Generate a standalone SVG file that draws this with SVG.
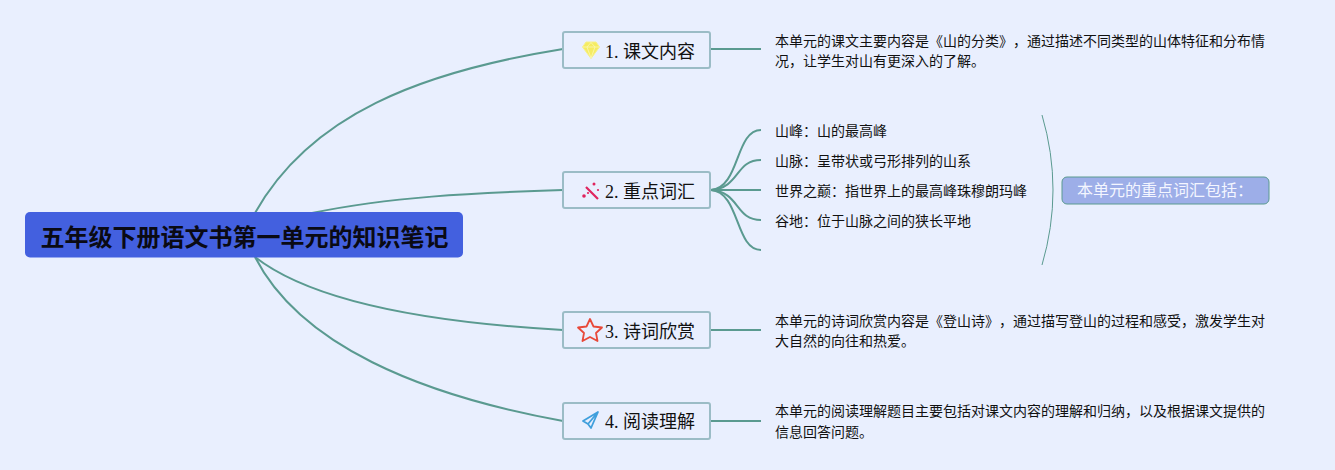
<svg xmlns="http://www.w3.org/2000/svg" width="1335" height="470" viewBox="0 0 1335 470">
<style>
text{text-spacing-trim:space-all}
.c{fill:none;stroke:#5a9a90;stroke-width:2}
.b{fill:#e9effe;stroke:#9bbcc6;stroke-width:2}
.t{font-family:"Liberation Serif","Noto Sans CJK SC",serif;font-size:18px;fill:#111}
.s{font-family:"Liberation Serif","Noto Sans CJK SC",serif;font-size:14px;fill:#111}
</style>
<rect width="1335" height="470" fill="#e9effe"/>
<g id="connectors">
<path class="c" d="M255 213C310 115 420 72 563 49"/>
<path class="c" d="M312 213C390 197 470 193 563 190"/>
<path class="c" d="M255 257C310 300 420 322 563 330"/>
<path class="c" d="M255 257C300 345 420 395 563 421"/>
<path class="c" d="M711 49H761"/>
<path class="c" d="M711 190C740 188 735 130 761 130"/>
<path class="c" d="M711 190C740 188 735 160 761 160"/>
<path class="c" d="M711 190H761"/>
<path class="c" d="M711 190C740 192 735 220 761 220"/>
<path class="c" d="M711 190C740 192 735 250 761 250"/>
<path class="c" d="M711 330H761"/>
<path class="c" d="M711 421H761"/>
<path d="M1042 115Q1064 190 1042 265" fill="none" stroke="#5a9a90" stroke-width="1"/>
</g>
<g id="root">
<rect x="25" y="212" width="438" height="45.500" rx="5" fill="#4360df"/>
<text x="244.500" y="246" text-anchor="middle" font-family="'Noto Sans CJK SC',sans-serif" font-size="24" font-weight="700" fill="#0a0a14">五年级下册语文书第一单元的知识笔记</text>
</g>
<g id="n1">
<rect class="b" x="563" y="32" width="147" height="36" rx="2"/>
<path d="M582.500 47L586 42H596L599.500 47L591 58.500Z" fill="#f5ec62" stroke="#f7f08c"/>
<path d="M583 47H599M587 47L591 58L595 47L591 42.500L587 47" fill="none" stroke="#fbf7b4" stroke-width="0.800"/>
<text class="t" x="605" y="58">1. 课文内容</text>
</g>
<g id="n2">
<rect class="b" x="563" y="172" width="147" height="36" rx="2"/>
<path d="M586 187L598 199" stroke="#e0245e" stroke-width="2.200" fill="none"/>
<circle cx="594" cy="184" r="1.500" fill="#e0245e"/>
<circle cx="598" cy="190" r="1.100" fill="#e0245e"/>
<circle cx="584" cy="196" r="1.800" fill="#e0245e"/>
<circle cx="588" cy="193" r="1.100" fill="#e0245e"/>
<text class="t" x="605" y="198">2. 重点词汇</text>
</g>
<g id="n3">
<rect class="b" x="563" y="312" width="147" height="36" rx="2"/>
<path d="M590 319L593.500 326.500L602 327.500L596 333L597.500 341L590 337L582.500 341L584 333L578 327.500L586.500 326.500Z" fill="none" stroke="#e8493a" stroke-width="1.800" stroke-linejoin="round"/>
<text class="t" x="605" y="338">3. 诗词欣赏</text>
</g>
<g id="n4">
<rect class="b" x="563" y="403" width="147" height="36" rx="2"/>
<path d="M598 412L583 421L588 424L591 428L598 412L588 424" fill="none" stroke="#3f9fdc" stroke-width="1.800" stroke-linejoin="round"/>
<text class="t" x="605" y="428">4. 阅读理解</text>
</g>
<g id="d1">
<text class="s" x="775" y="46">本单元的课文主要内容是《山的分类》，通过描述不同类型的山体特征和分布情</text>
<text class="s" x="775" y="66">况，让学生对山有更深入的了解。</text>
</g>
<g id="d2a"><text class="s" x="775" y="136">山峰：山的最高峰</text></g>
<g id="d2b"><text class="s" x="775" y="166">山脉：呈带状或弓形排列的山系</text></g>
<g id="d2c"><text class="s" x="775" y="196">世界之巅：指世界上的最高峰珠穆朗玛峰</text></g>
<g id="d2d"><text class="s" x="775" y="226">谷地：位于山脉之间的狭长平地</text></g>
<g id="d3">
<text class="s" x="775" y="326">本单元的诗词欣赏内容是《登山诗》，通过描写登山的过程和感受，激发学生对</text>
<text class="s" x="775" y="346">大自然的向往和热爱。</text>
</g>
<g id="d4">
<text class="s" x="775" y="416">本单元的阅读理解题目主要包括对课文内容的理解和归纳，以及根据课文提供的</text>
<text class="s" x="775" y="437">信息回答问题。</text>
</g>
<g id="summary">
<rect x="1062" y="177" width="207" height="27" rx="5" fill="#9daee8" stroke="#5a9a90"/>
<text x="1165" y="196" text-anchor="middle" font-family="'Liberation Serif','Noto Sans CJK SC',serif" font-size="16" fill="#f4f6ff">本单元的重点词汇包括：</text>
</g>
</svg>
